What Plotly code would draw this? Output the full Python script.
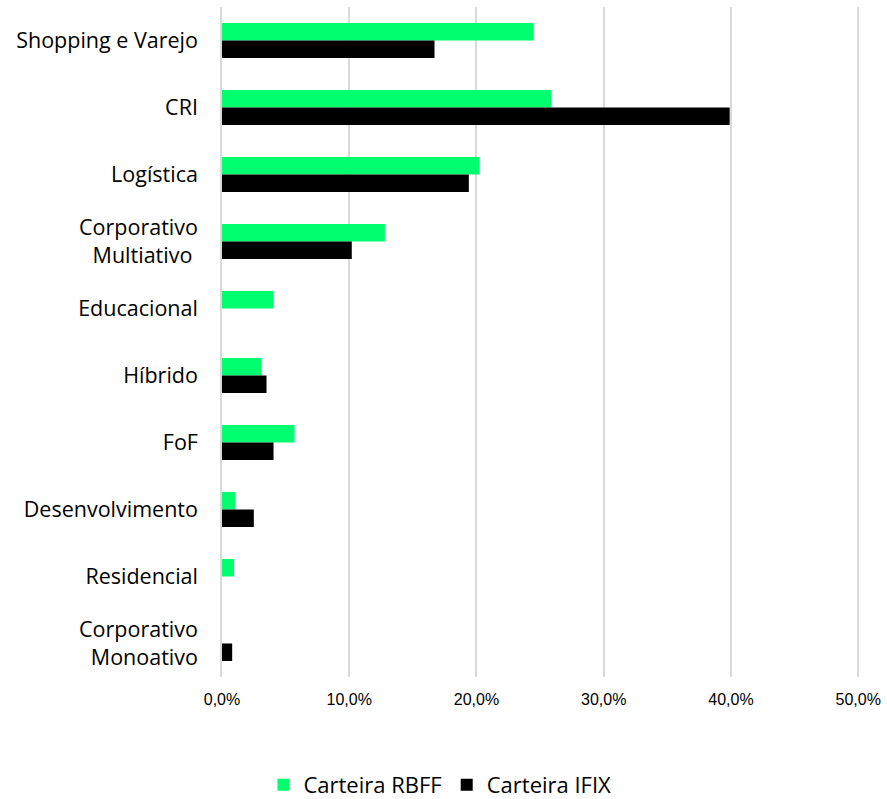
import plotly.graph_objects as go

categories = [
    "Shopping e Varejo",
    "CRI",
    "Logística",
    "Corporativo<br>Multiativo\u00a0",
    "Educacional",
    "Híbrido",
    "FoF",
    "Desenvolvimento",
    "Residencial",
    "Corporativo<br>Monoativo",
]

rbff = [24.5, 25.9, 20.25, 12.8, 4.05, 3.1, 5.7, 1.05, 0.95, 0.0]
ifix = [16.7, 39.9, 19.4, 10.2, 0.0, 3.5, 4.05, 2.5, 0.0, 0.8]

x_ticks = [0, 10, 20, 30, 40, 50]
x_tick_text = ["0,0%", "10,0%", "20,0%", "30,0%", "40,0%", "50,0%"]

fig = go.Figure()
fig.add_trace(go.Bar(
    name="Carteira RBFF", y=categories, x=rbff, orientation="h",
    marker=dict(color="#00FF6E", line=dict(width=0)),
))
fig.add_trace(go.Bar(
    name="Carteira IFIX", y=categories, x=ifix, orientation="h",
    marker=dict(color="#000000", line=dict(width=0)),
))

fig.update_layout(
    width=887, height=799,
    margin=dict(l=222, r=25, t=7, b=122),
    barmode="group", bargap=0.478, bargroupgap=0,
    plot_bgcolor="white", paper_bgcolor="white",
    font=dict(family="Open Sans, sans-serif", color="#000000"),
    showlegend=True,
    legend=dict(
        orientation="h",
        xref="container", x=0.496, xanchor="center",
        yref="container", y=0.0175, yanchor="middle",
        font=dict(size=22, family="Open Sans, sans-serif"),
        itemwidth=30, traceorder="normal",
    ),
    xaxis=dict(
        range=[0, 50.3], tickvals=x_ticks, ticktext=x_tick_text,
        showgrid=True, gridcolor="#D9D9D9", gridwidth=1.5,
        zeroline=False, showline=False,
        tickfont=dict(family="Liberation Sans, Arial, sans-serif", size=16),
        ticklabelstandoff=11,
    ),
    yaxis=dict(
        autorange="reversed", showgrid=False, zeroline=False,
        showline=True, linecolor="#D9D9D9", linewidth=1.5,
        tickfont=dict(size=21.5, family="Open Sans, sans-serif"),
        ticklabelstandoff=18,
    ),
)

fig.write_html("out.html")
